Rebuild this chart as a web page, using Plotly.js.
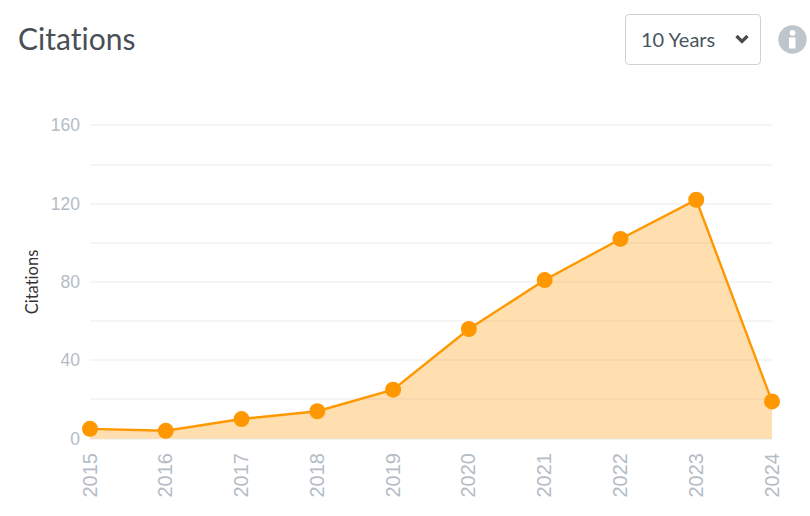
<!DOCTYPE html>
<html>
<head>
<meta charset="utf-8">
<script src="https://cdn.plot.ly/plotly-3.0.1.min.js"></script>
<style>
  html, body { margin: 0; padding: 0; background: #fff; overflow: hidden; }
  #chart { position: absolute; left: 0; top: 0; width: 810px; height: 516px; }
  #chart text { font-variant-ligatures: none !important; font-feature-settings: "liga" 0 !important; }
  .range-select {
    position: absolute; left: 625px; top: 14px; width: 134px; height: 49px;
    border: 1px solid #cfd1d3; border-radius: 4px; background: #fff;
    font: 20px Lato, sans-serif; color: #4a5560; line-height: 49px;
    text-indent: 15px; font-variant-ligatures: none;
  }
  .range-select svg { position: absolute; left: 109px; top: 19px; }
  .info { position: absolute; left: 778px; top: 25px; }
</style>
</head>
<body>
<div id="chart"></div>
<div class="range-select">10 Years
  <svg width="14" height="10" viewBox="0 0 14 10"><path d="M1.5 2 L7 7.5 L12.5 2" fill="none" stroke="#4a4a4a" stroke-width="3.2"/></svg>
</div>
<svg class="info" width="29" height="29" viewBox="0 0 29 29">
  <circle cx="14.5" cy="14.5" r="14.2" fill="#bdc5cd"/>
  <circle cx="14.5" cy="7.8" r="2.9" fill="#fff"/>
  <rect x="11" y="12.5" width="6.5" height="11" fill="#fff"/>
</svg>
<script>
const years = ["2015", "2016", "2017", "2018", "2019", "2020", "2021", "2022", "2023", "2024"];
const citations = [5, 4, 10, 14, 25, 56, 81, 102, 122, 19];
const yTicks = [0, 20, 40, 60, 80, 100, 120, 140, 160];
const yLabels = ["0", "", "40", "", "80", "", "120", "", "160"];

const ORANGE = "#ff9800";
const TICK_GREY = "#b4bcc6";

const traces = [
  {
    type: "scatter",
    mode: "lines+markers",
    x: years,
    y: citations,
    fill: "tozeroy",
    fillcolor: "rgba(255,152,0,0.31)",
    line: { color: ORANGE, width: 2.4 },
    marker: { color: ORANGE, size: 16 },
    cliponaxis: false,
    hoverinfo: "x+y",
  },
];

const layout = {
  width: 810,
  height: 516,
  paper_bgcolor: "#fff",
  plot_bgcolor: "#fff",
  showlegend: false,
  margin: { t: 123.8, r: 38, b: 76, l: 89.5, pad: 0 },
  title: {
    text: "Citations",
    x: 18 / 810,
    xanchor: "left",
    y: 1 - 39 / 516,
    yanchor: "middle",
    font: { family: "Lato, sans-serif", size: 30, color: "#484f56" },
  },
  xaxis: {
    type: "category",
    range: [0, 9],
    showgrid: false,
    zeroline: false,
    showline: false,
    ticks: "",
    tickangle: -90,
    ticklabelstandoff: 8,
    tickfont: { family: "'Liberation Sans', sans-serif", size: 20, color: TICK_GREY },
  },
  yaxis: {
    // range padded by just over 1px so the 0 and 160 gridlines are kept
    range: [-0.7, 160.7],
    tickmode: "array",
    tickvals: yTicks,
    ticktext: yLabels,
    gridcolor: "#f5f5f6",
    gridwidth: 1.5,
    zeroline: false,
    showline: false,
    ticks: "",
    ticklabelstandoff: 9,
    tickfont: { family: "'Liberation Sans', sans-serif", size: 17.5, color: TICK_GREY },
    title: {
      text: "Citations",
      standoff: 8,
      font: { family: "Lato, sans-serif", size: 16.5, color: "#333" },
    },
  },
};

Plotly.newPlot("chart", traces, layout, { displayModeBar: false });
</script>
</body>
</html>
